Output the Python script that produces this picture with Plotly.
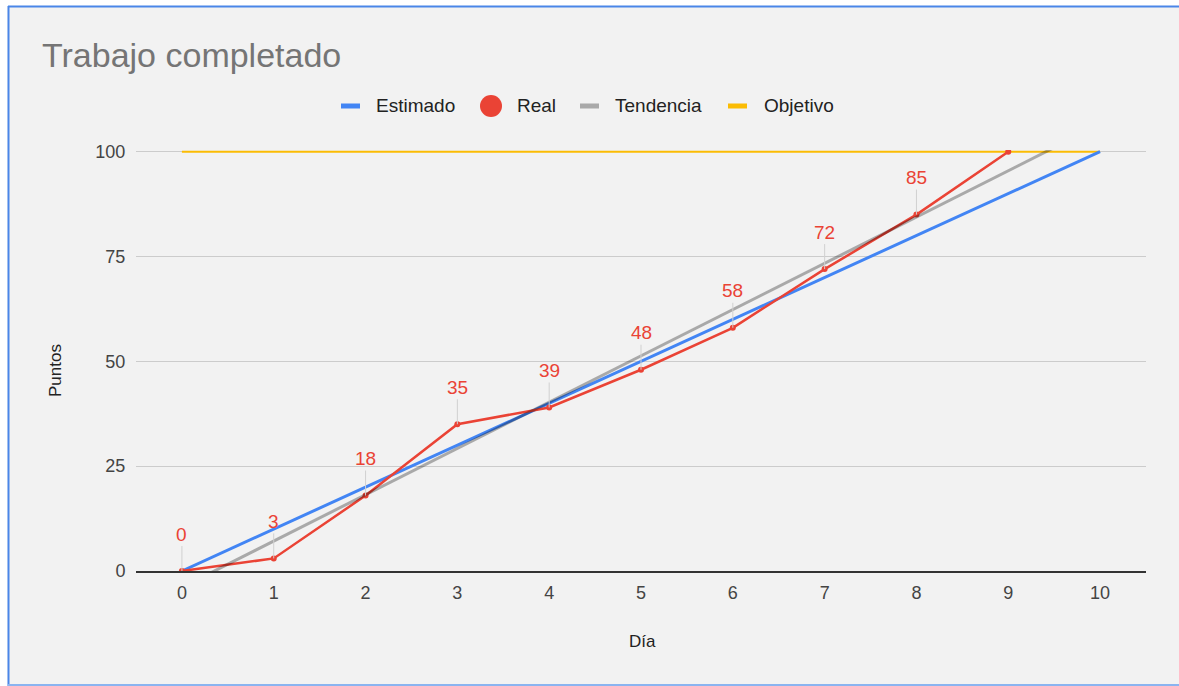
import plotly.graph_objects as go

# ---- data ----
dias = [0, 1, 2, 3, 4, 5, 6, 7, 8, 9, 10]
estimado = [0, 10, 20, 30, 40, 50, 60, 70, 80, 90, 100]
dias_real = [0, 1, 2, 3, 4, 5, 6, 7, 8, 9]
real = [0, 3, 18, 35, 39, 48, 58, 72, 85, 100]
etiquetas_real = ["0", "3", "18", "35", "39", "48", "58", "72", "85", ""]
dias_tendencia = [0, 10]
tendencia = [-3.9, 106.5]
objetivo = [100, 100, 100, 100, 100, 100, 100, 100, 100, 100, 100]
y_ticks = [0, 25, 50, 75, 100]
leyenda = ["Estimado", "Real", "Tendencia", "Objetivo"]

AZUL = "#4285F4"
ROJO = "#EA4335"
GRIS = "rgba(0,0,0,0.30)"
AMARILLO = "#FBBC04"
FONT = "Liberation Sans, Arial, sans-serif"

W, H = 1179, 686
L, R, T, B = 136, 33, 150, 115
PW, PH = W - L - R, H - T - B


def px(x):
    return (x - L) / PW


def py(y):
    return (H - B - y) / PH


fig = go.Figure()
fig.add_trace(go.Scatter(x=dias, y=objetivo, mode="lines", line=dict(color=AMARILLO, width=2),
                         name=leyenda[3], hoverinfo="skip"))
fig.add_trace(go.Scatter(x=dias, y=estimado, mode="lines", line=dict(color=AZUL, width=3),
                         name=leyenda[0]))
fig.add_trace(go.Scatter(x=dias_real, y=real, mode="lines+markers", line=dict(color=ROJO, width=2.5),
                         marker=dict(color=ROJO, size=6), name=leyenda[1]))
fig.add_trace(go.Scatter(x=dias_tendencia, y=tendencia, mode="lines", line=dict(color=GRIS, width=3),
                         name=leyenda[2]))

annotations = []
for xd, yv, lab in zip(dias_real, real, etiquetas_real):
    if lab:
        annotations.append(dict(x=xd, y=yv, xref="x", yref="y", text=lab, showarrow=True,
                                arrowhead=0, arrowwidth=1, arrowcolor="#d0d0d0", ax=0, ay=-37,
                                standoff=0, font=dict(family=FONT, size=19, color=ROJO)))

# axis titles
annotations.append(dict(x=px(55), y=py(371), xref="paper", yref="paper", text="Puntos",
                        textangle=-90, xanchor="center", yanchor="middle", showarrow=False,
                        font=dict(family=FONT, size=17, color="#222222")))
annotations.append(dict(x=px(642), y=py(641), xref="paper", yref="paper", text="Día",
                        xanchor="center", yanchor="middle", showarrow=False,
                        font=dict(family=FONT, size=17, color="#222222")))

# manual legend
shapes = []
ly = 106
items = [
    ("line", AZUL, 341, 360, 374, leyenda[0]),
    ("circle", ROJO, 491, 0, 515, leyenda[1]),
    ("line", "#a9a9a9", 580, 599, 613, leyenda[2]),
    ("line", AMARILLO, 728, 747, 762, leyenda[3]),
]
for kind, col, a, b, tx, lab in items:
    if kind == "line":
        shapes.append(dict(type="rect", xref="paper", yref="paper", x0=px(a), x1=px(b),
                           y0=py(ly - 2.5), y1=py(ly + 2.5), fillcolor=col, line=dict(width=0)))
    else:
        shapes.append(dict(type="circle", xref="paper", yref="paper", x0=px(a - 11), x1=px(a + 11),
                           y0=py(ly - 11), y1=py(ly + 11), fillcolor=col, line=dict(width=0)))
    annotations.append(dict(x=px(tx), y=py(ly - 1), xref="paper", yref="paper", text=lab,
                            xanchor="left", yanchor="middle", showarrow=False,
                            font=dict(family=FONT, size=19, color="#222222")))

# page frame (spreadsheet surroundings)
shapes.append(dict(type="rect", xref="paper", yref="paper", x0=px(0), x1=px(W), y0=py(0), y1=py(6),
                   fillcolor="white", line=dict(width=0), layer="below"))
shapes.append(dict(type="rect", xref="paper", yref="paper", x0=px(0), x1=px(7.5), y0=py(0), y1=py(H),
                   fillcolor="white", line=dict(width=0), layer="below"))
shapes.append(dict(type="line", xref="paper", yref="paper", x0=px(8), x1=px(W), y0=py(6.5), y1=py(6.5),
                   line=dict(color="#4a86e8", width=2)))
shapes.append(dict(type="line", xref="paper", yref="paper", x0=px(8.5), x1=px(8.5), y0=py(6), y1=py(H),
                   line=dict(color="#4a86e8", width=2)))
shapes.append(dict(type="line", xref="paper", yref="paper", x0=px(8), x1=px(W), y0=py(685), y1=py(685),
                   line=dict(color="#8ab4f0", width=2)))

fig.update_layout(
    width=W, height=H,
    margin=dict(l=L, r=R, t=T, b=B),
    paper_bgcolor="#f2f2f2", plot_bgcolor="#f2f2f2",
    showlegend=False,
    title=dict(text="Trabajo completado", x=42 / W, xref="container", xanchor="left",
               y=1 - 55 / H, yref="container", yanchor="middle",
               font=dict(family=FONT, size=34, color="#757575")),
    font=dict(family=FONT, size=18, color="#444444"),
    shapes=shapes,
    annotations=annotations,
)
fig.update_xaxes(range=[-0.5, 10.5], tickvals=dias, ticktext=[str(d) for d in dias],
                 showgrid=False, zeroline=False, showline=True, linecolor="#333333", linewidth=1.5,
                 ticks="outside", ticklen=5, tickcolor="rgba(0,0,0,0)",
                 tickfont=dict(family=FONT, size=18, color="#444444"), fixedrange=True)
fig.update_yaxes(range=[0, 100.4], tickvals=y_ticks, ticktext=[str(v) for v in y_ticks],
                 showgrid=True, gridcolor="#cccccc", gridwidth=1, zeroline=False,
                 ticks="outside", ticklen=6, tickcolor="rgba(0,0,0,0)",
                 tickfont=dict(family=FONT, size=18, color="#444444"), fixedrange=True)

fig.write_html("out.html")
